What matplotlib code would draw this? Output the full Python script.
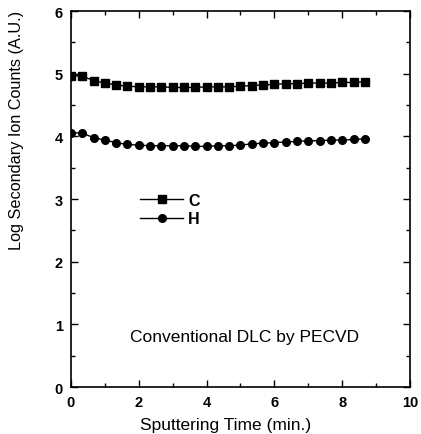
import matplotlib
matplotlib.use("Agg")
import matplotlib.pyplot as plt
import numpy as np
from matplotlib.ticker import MultipleLocator

plt.rcParams["font.family"] = ["Liberation Sans", "DejaVu Sans"]

# -------- data --------
time_min = np.arange(27) / 3.0
carbon = [4.97, 4.96, 4.89, 4.85, 4.82, 4.80, 4.79, 4.79, 4.79, 4.78, 4.78, 4.78, 4.79, 4.79,
          4.79, 4.80, 4.81, 4.82, 4.83, 4.84, 4.84, 4.85, 4.85, 4.85, 4.86, 4.86, 4.87]
hydrogen = [4.06, 4.05, 3.98, 3.94, 3.90, 3.87, 3.86, 3.85, 3.85, 3.85, 3.85, 3.84, 3.84, 3.85,
            3.85, 3.86, 3.88, 3.89, 3.90, 3.91, 3.92, 3.93, 3.93, 3.94, 3.94, 3.95, 3.96]

fig = plt.figure(figsize=(4.21, 4.35), dpi=100)
ax = fig.add_axes([0.1686, 0.108, 0.8053, 0.8644])

ax.plot(time_min, carbon, color="black", lw=1, marker="s", ms=5.3, label="C")
ax.plot(time_min, hydrogen, color="black", lw=1, marker="o", ms=5.5, label="H")

ax.set_xlim(0, 10)
ax.set_ylim(0, 6)
ax.xaxis.set_major_locator(MultipleLocator(2))
ax.xaxis.set_minor_locator(MultipleLocator(1))
ax.yaxis.set_major_locator(MultipleLocator(1))
ax.yaxis.set_minor_locator(MultipleLocator(0.5))
ax.tick_params(which="both", direction="in", top=True, right=True, width=1)
ax.tick_params(which="major", length=5, labelsize=10.5, pad=6)
ax.tick_params(which="minor", length=3)
for lab in ax.get_xticklabels() + ax.get_yticklabels():
    lab.set_fontweight("bold")
for sp in ax.spines.values():
    sp.set_linewidth(1.2)

ax.set_xlabel("Sputtering Time (min.)", fontsize=12.5)
ax.xaxis.set_label_coords(0.457, -0.1, transform=ax.transAxes)
ax.xaxis.label.set_va("center")
ax.set_ylabel("Log Secondary Ion Counts (A.U.)", fontsize=11.7)
ax.yaxis.set_label_coords(-0.16, 0.684, transform=ax.transAxes)
ax.yaxis.label.set_va("center")

ax.legend(loc="upper left", bbox_to_anchor=(0.18, 0.537), frameon=False,
          prop={"size": 11.5, "weight": "bold"},
          handlelength=2.7, handletextpad=0.3, labelspacing=0.2, borderpad=0)

ax.text(5.12, 0.81, "Conventional DLC by PECVD", ha="center", va="center", fontsize=12.5)

fig.savefig("out.png", dpi=100)
